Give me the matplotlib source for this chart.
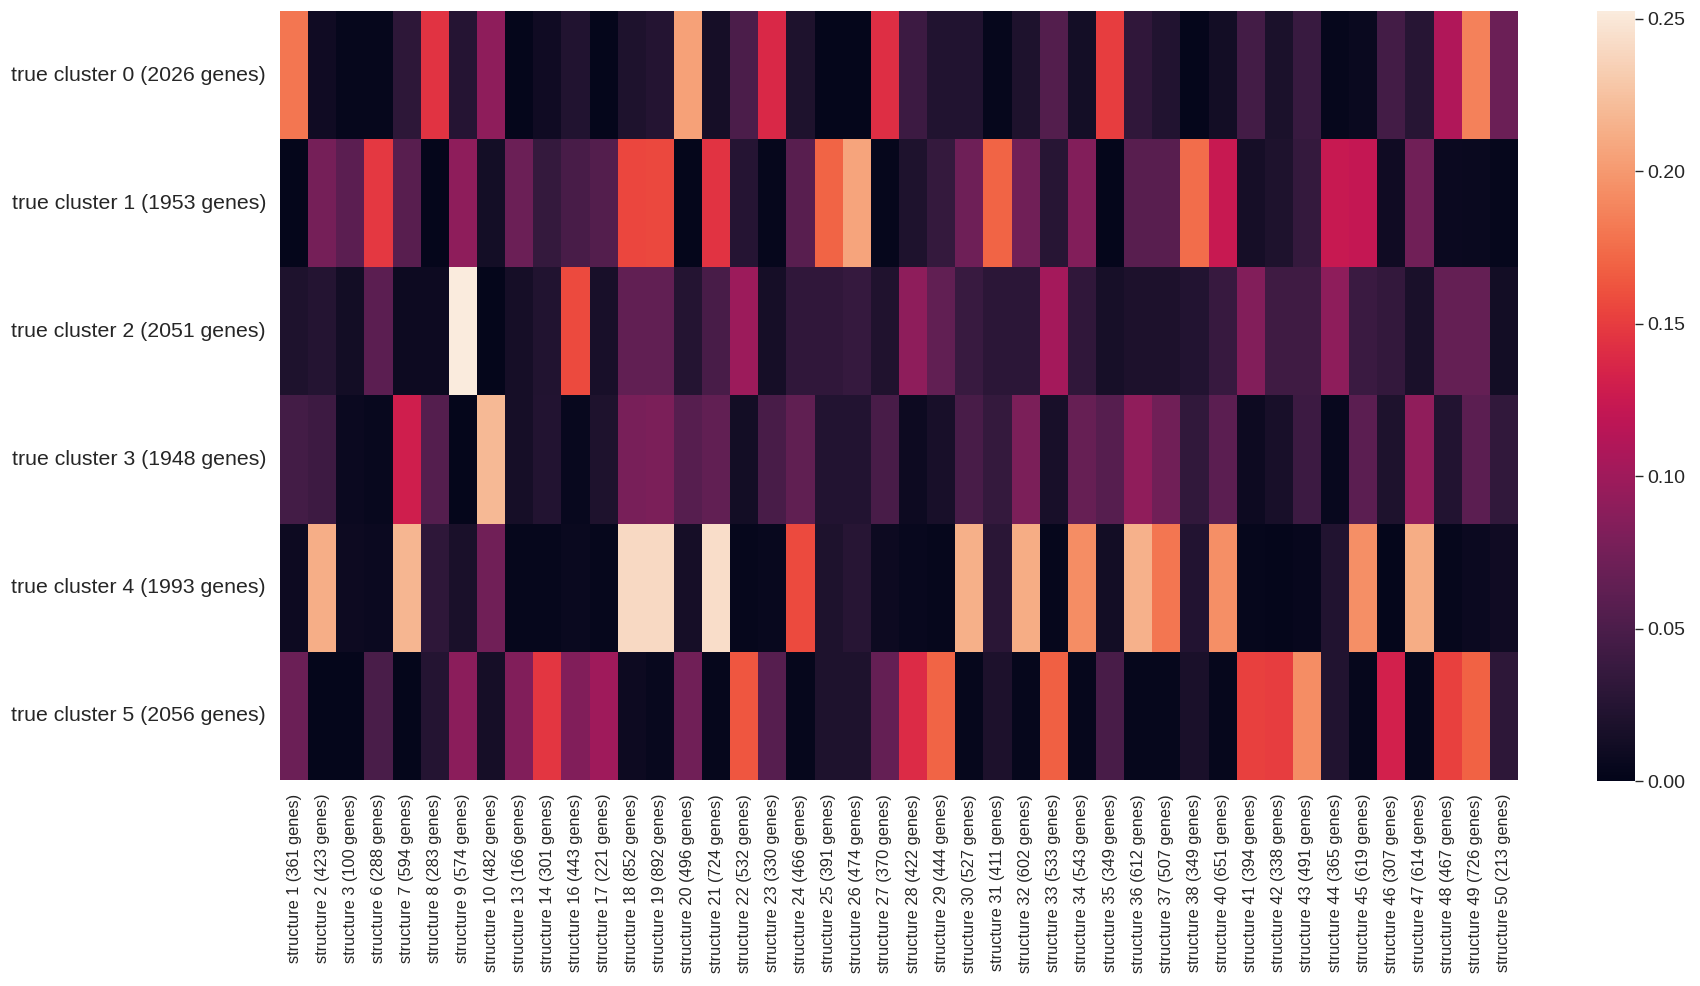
import numpy as np
import matplotlib
matplotlib.use("Agg")
import matplotlib.pyplot as plt
import seaborn as sns

row_labels = [
    "true cluster 0 (2026 genes)",
    "true cluster 1 (1953 genes)",
    "true cluster 2 (2051 genes)",
    "true cluster 3 (1948 genes)",
    "true cluster 4 (1993 genes)",
    "true cluster 5 (2056 genes)",
]

structure_ids = [1, 2, 3, 6, 7, 8, 9, 10, 13, 14, 16, 17, 18, 19, 20, 21, 22, 23, 24, 25, 26, 27,
                 28, 29, 30, 31, 32, 33, 34, 35, 36, 37, 38, 40, 41, 42, 43, 44, 45, 46, 47, 48, 49, 50]
structure_genes = [361, 423, 100, 288, 594, 283, 574, 482, 166, 301, 443, 221, 852, 892, 496, 724, 532,
                   330, 466, 391, 474, 370, 422, 444, 527, 411, 602, 533, 543, 349, 612, 507, 349, 651,
                   394, 338, 491, 365, 619, 307, 614, 467, 726, 213]
col_labels = [f"structure {s} ({g} genes)" for s, g in zip(structure_ids, structure_genes)]

cluster0 = [0.180, 0.010, 0.003, 0.003, 0.030, 0.145, 0.025, 0.090, 0.002, 0.010, 0.022,
            0.002, 0.020, 0.024, 0.205, 0.014, 0.050, 0.138, 0.020, 0.002, 0.002, 0.142,
            0.040, 0.022, 0.022, 0.003, 0.020, 0.055, 0.013, 0.150, 0.032, 0.022, 0.002,
            0.012, 0.045, 0.018, 0.038, 0.003, 0.006, 0.045, 0.026, 0.110, 0.186, 0.070]
cluster1 = [0.002, 0.075, 0.060, 0.148, 0.058, 0.002, 0.090, 0.013, 0.070, 0.035, 0.048,
            0.055, 0.155, 0.156, 0.002, 0.145, 0.025, 0.003, 0.058, 0.170, 0.207, 0.003,
            0.020, 0.035, 0.072, 0.170, 0.073, 0.026, 0.083, 0.002, 0.058, 0.058, 0.175,
            0.124, 0.014, 0.020, 0.035, 0.124, 0.122, 0.010, 0.073, 0.007, 0.006, 0.003]
cluster2 = [0.020, 0.024, 0.012, 0.060, 0.008, 0.008, 0.2526, 0.002, 0.014, 0.022, 0.157,
            0.016, 0.064, 0.064, 0.024, 0.048, 0.098, 0.014, 0.032, 0.032, 0.036, 0.021,
            0.090, 0.064, 0.038, 0.029, 0.029, 0.103, 0.032, 0.015, 0.019, 0.019, 0.023,
            0.037, 0.083, 0.042, 0.042, 0.090, 0.039, 0.034, 0.017, 0.066, 0.066, 0.012]
cluster3 = [0.045, 0.041, 0.007, 0.005, 0.130, 0.056, 0.002, 0.220, 0.014, 0.023, 0.005,
            0.020, 0.077, 0.079, 0.057, 0.064, 0.012, 0.048, 0.063, 0.023, 0.023, 0.048,
            0.008, 0.016, 0.048, 0.035, 0.079, 0.016, 0.067, 0.057, 0.091, 0.073, 0.033,
            0.060, 0.008, 0.016, 0.040, 0.005, 0.060, 0.020, 0.091, 0.023, 0.060, 0.033]
cluster4 = [0.008, 0.213, 0.008, 0.007, 0.218, 0.031, 0.017, 0.073, 0.003, 0.003, 0.006,
            0.003, 0.240, 0.240, 0.014, 0.243, 0.003, 0.005, 0.157, 0.020, 0.026, 0.008,
            0.005, 0.003, 0.214, 0.028, 0.212, 0.003, 0.193, 0.012, 0.215, 0.180, 0.023,
            0.194, 0.003, 0.002, 0.004, 0.022, 0.194, 0.002, 0.212, 0.003, 0.007, 0.010]
cluster5 = [0.070, 0.002, 0.002, 0.049, 0.002, 0.024, 0.088, 0.014, 0.082, 0.147, 0.082,
            0.100, 0.008, 0.005, 0.073, 0.003, 0.163, 0.057, 0.003, 0.020, 0.020, 0.066,
            0.140, 0.170, 0.003, 0.019, 0.003, 0.168, 0.003, 0.048, 0.003, 0.003, 0.017,
            0.003, 0.152, 0.150, 0.193, 0.022, 0.003, 0.132, 0.003, 0.152, 0.169, 0.030]

data = np.array([cluster0, cluster1, cluster2, cluster3, cluster4, cluster5])

text_color = "#262626"
plt.rcParams["font.family"] = ["Liberation Sans", "DejaVu Sans"]

fig = plt.figure(figsize=(17, 9.86), dpi=100)
ax = fig.add_axes([280 / 1700, 1 - 780 / 986, (1518 - 280) / 1700, (780 - 11) / 986])
cax = fig.add_axes([1597 / 1700, 1 - 781 / 986, 38 / 1700, (781 - 11) / 986])

sns.heatmap(data, ax=ax, cbar_ax=cax, cmap="rocket", vmin=0,
            xticklabels=col_labels, yticklabels=row_labels)

ax.tick_params(axis="both", length=0)
ax.tick_params(axis="y", pad=10)
ax.tick_params(axis="x", pad=10)
for lbl in ax.get_yticklabels():
    lbl.set_fontsize(15.3)
    lbl.set_color(text_color)
    lbl.set_rotation(0)
for lbl in ax.get_xticklabels():
    lbl.set_fontsize(11.8)
    lbl.set_color(text_color)
    lbl.set_rotation(90)

cax.set_yticks([0.0, 0.05, 0.10, 0.15, 0.20, 0.25])
cax.yaxis.set_major_formatter(matplotlib.ticker.FormatStrFormatter("%.2f"))
cax.tick_params(axis="y", length=6, width=1, color=text_color, labelsize=14,
                labelcolor=text_color, pad=3)
for s in cax.spines.values():
    s.set_visible(False)

fig.savefig("out.png", dpi=100)
